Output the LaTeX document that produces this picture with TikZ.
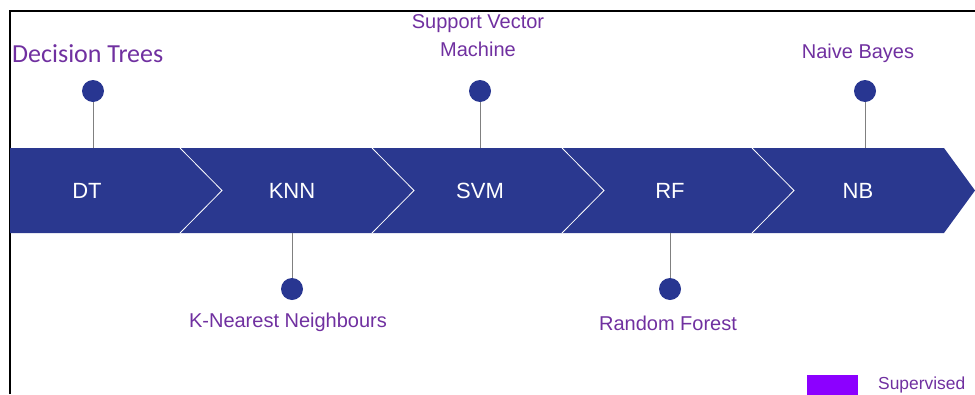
\documentclass[tikz,border=0pt]{standalone}
\usepackage{fontspec}
\setmainfont{Liberation Sans}
\newfontfamily\calfont{Carlito}
\definecolor{bandblue}{RGB}{42,56,143}
\definecolor{dotblue}{RGB}{40,54,145}
\definecolor{txtpurple}{RGB}{112,48,160}
\definecolor{legviolet}{RGB}{140,0,255}
\definecolor{pingray}{RGB}{128,128,128}
\tikzset{
  seglabel/.style={text=white, font=\fontsize{22}{26}\selectfont, inner sep=0pt},
  pindot/.style={circle, fill=dotblue, minimum size=22pt, inner sep=0pt},
  pinline/.style={draw=pingray, line width=1pt},
  pintext/.style={text=txtpurple, font=\fontsize{20}{28}\selectfont, align=center, inner sep=0pt},
  sepline/.style={draw=white, line width=0.8pt},
}
\begin{document}
\begin{tikzpicture}[x=1pt,y=-1pt]
\useasboundingbox (0,0) rectangle (975,394);
% frame
\draw[line width=2pt] (9.5,394) -- (9.5,11) -- (975,11);
% band
\fill[bandblue] (10,148) -- (944,148) -- (975,190.5) -- (944,233) -- (10,233) -- cycle;
\foreach \x in {180,372,562,752}{
  \draw[sepline] (\x,148) -- (\x+42,190.5) -- (\x,233);
}
% segment labels
\node[seglabel] (dt) at (87,190.5) {DT};
\node[seglabel] (knn) at (292,190.5) {KNN};
\node[seglabel] (svm) at (480,190.5) {SVM};
\node[seglabel] (rf) at (670,190.5) {RF};
\node[seglabel] (nb) at (858,190.5) {NB};
% anchor coordinates on band edges
\coordinate (dtTop) at (93,148);
\coordinate (svmTop) at (480,148);
\coordinate (nbTop) at (865,148);
\coordinate (knnBot) at (292,233);
\coordinate (rfBot) at (670,233);
% pins
\node[pindot] (dtDot) at (93,91) {};
\node[pindot] (svmDot) at (480,91) {};
\node[pindot] (nbDot) at (865,91) {};
\node[pindot] (knnDot) at (292,289) {};
\node[pindot] (rfDot) at (670,289) {};
\draw[pinline] (dtDot) -- (dtTop);
\draw[pinline] (svmDot) -- (svmTop);
\draw[pinline] (nbDot) -- (nbTop);
\draw[pinline] (knnDot) -- (knnBot);
\draw[pinline] (rfDot) -- (rfBot);
% pin texts
\node[text=txtpurple, font=\calfont\fontsize{26}{30}\selectfont, inner sep=0pt, anchor=west] (dtText) at (12,54) {Decision Trees};
\node[pintext] (svmText) at (478,36) {Support Vector\\Machine};
\node[pintext] (nbText) at (858,53) {Naive Bayes};
\node[pintext] (knnText) at (288,322) {K-Nearest Neighbours};
\node[pintext] (rfText) at (668,323) {Random Forest};
% legend
\fill[legviolet] (807,375) rectangle (858,398);
\node[text=txtpurple, font=\fontsize{17.4}{20}\selectfont, inner sep=0pt, anchor=west] (leg) at (878,385) {Supervised};
\end{tikzpicture}
\end{document}
